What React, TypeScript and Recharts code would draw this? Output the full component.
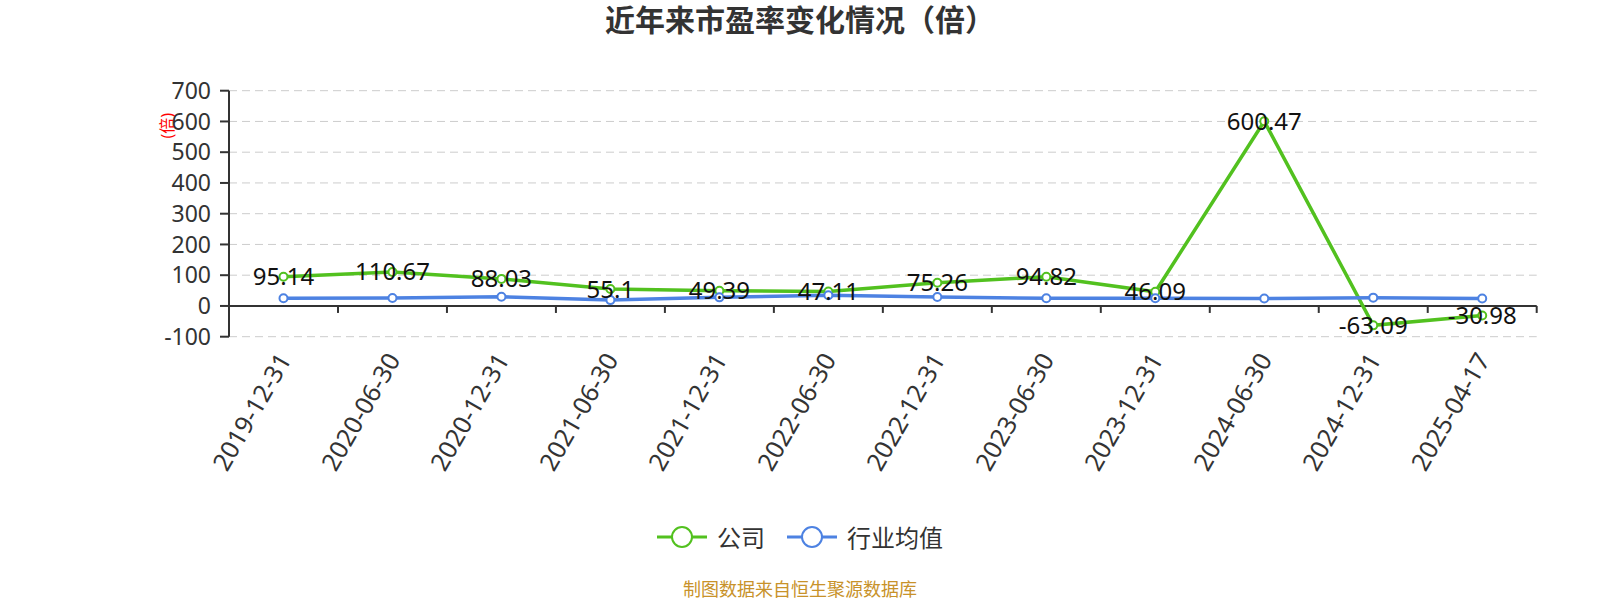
import { CartesianGrid, ComposedChart, Legend, LabelList, Line, ReferenceLine, Scatter, XAxis, YAxis } from "recharts";

const dates = [
  "2019-12-31",
  "2020-06-30",
  "2020-12-31",
  "2021-06-30",
  "2021-12-31",
  "2022-06-30",
  "2022-12-31",
  "2023-06-30",
  "2023-12-31",
  "2024-06-30",
  "2024-12-31",
  "2025-04-17",
];
const companyPE = [95.14, 110.67, 88.03, 55.1, 49.39, 47.11, 75.26, 94.82, 46.09, 600.47, -63.09, -30.98];
const industryPE = [25, 26, 30, 19, 28, 35, 29, 25, 25, 24, 27, 24];
const yTicks = [-100, 0, 100, 200, 300, 400, 500, 600, 700];

const GREEN = "#52c11f";
const BLUE = "#4d82e2";
const FONT = '"Noto Sans", "Noto Sans CJK SC", sans-serif';

const data = dates.map((date, i) => ({ date, company: companyPE[i], industry: industryPE[i] }));
// category boundaries on the zero line, where the x axis has its tick marks
const edgeData = Array.from({ length: dates.length + 1 }, (_, i) => ({ edge: i, zero: 0 }));

function DateTick({ x, y, payload }: any) {
  const ty = y + 18;
  return (
    <text
      x={x}
      y={ty}
      transform={`rotate(-60, ${x}, ${ty})`}
      textAnchor="end"
      dominantBaseline="central"
      fontSize={25}
      fill="#333"
      fontFamily={FONT}
    >
      {payload.value}
    </text>
  );
}

function EdgeTick({ cx, cy }: any) {
  return <line x1={cx} y1={cy} x2={cx} y2={cy + 7} stroke="#333" strokeWidth={2} />;
}

function LegendIcon({ color }: { color: string }) {
  return (
    <svg width={50} height={24}>
      <line x1={0} y1={12} x2={50} y2={12} stroke={color} strokeWidth={3} />
      <circle cx={25} cy={12} r={10} fill="#fff" stroke={color} strokeWidth={2} />
    </svg>
  );
}

function ChartLegend() {
  const items = [
    { name: "公司", color: GREEN },
    { name: "行业均值", color: BLUE },
  ];
  return (
    <div style={{ height: 40, display: "flex", justifyContent: "center", alignItems: "center", gap: 22 }}>
      {items.map((it) => (
        <div key={it.name} style={{ display: "flex", alignItems: "center", gap: 10 }}>
          <LegendIcon color={it.color} />
          <span style={{ fontSize: 24, color: "#333", fontFamily: FONT }}>{it.name}</span>
        </div>
      ))}
    </div>
  );
}

export default function App() {
  return (
    <div style={{ position: "absolute", left: 0, top: 0, width: 1600, height: 600, background: "#fff", fontFamily: FONT }}>
      <div
        style={{
          position: "absolute",
          top: 5,
          left: 0,
          width: 1600,
          textAlign: "center",
          fontSize: 30,
          lineHeight: "30px",
          fontWeight: "bold",
          color: "#333",
        }}
      >
        近年来市盈率变化情况（倍）
      </div>
      <ComposedChart width={1600} height={600} data={data} margin={{ top: 90.7, right: 63.3, left: 0, bottom: 43.3 }}>
        <CartesianGrid vertical={false} stroke="#ccc" strokeDasharray="8 5" />
        <XAxis
          dataKey="date"
          scale="band"
          interval={0}
          height={180}
          axisLine={false}
          tickLine={false}
          tickSize={0}
          tickMargin={0}
          tick={<DateTick />}
        />
        <XAxis xAxisId="edge" type="number" dataKey="edge" domain={[0, dates.length]} hide />
        <YAxis
          width={229}
          domain={[-100, 700]}
          ticks={yTicks}
          interval={0}
          stroke="#333"
          strokeWidth={2}
          tickSize={9}
          tickMargin={9}
          tick={{ fontSize: 23, fill: "#333", fontFamily: FONT }}
          label={{
            content: ({ viewBox }: any) => {
              const cx = viewBox.x + viewBox.width - 62;
              const cy = viewBox.y + 35;
              return (
                <text
                  x={cx}
                  y={cy}
                  transform={`rotate(-90, ${cx}, ${cy})`}
                  textAnchor="middle"
                  dominantBaseline="central"
                  fontSize={16}
                  fill="#f00"
                  fontFamily={FONT}
                >
                  (倍)
                </text>
              );
            },
          }}
        />
        <ReferenceLine y={0} stroke="#333" strokeWidth={2} />
        <Scatter
          xAxisId="edge"
          data={edgeData}
          dataKey="zero"
          shape={<EdgeTick />}
          legendType="none"
          isAnimationActive={false}
        />
        <Legend
          verticalAlign="bottom"
          align="center"
          wrapperStyle={{ left: 0, width: 1600 }}
          content={() => <ChartLegend />}
        />
        <Line
          dataKey="company"
          name="公司"
          type="linear"
          stroke={GREEN}
          strokeWidth={3.5}
          dot={{ r: 4, fill: "#fff", stroke: GREEN, strokeWidth: 2 }}
          activeDot={false}
          isAnimationActive={false}
        >
          <LabelList dataKey="company" position="center" fontSize={24} fill="#111" fontFamily={FONT} />
        </Line>
        <Line
          dataKey="industry"
          name="行业均值"
          type="linear"
          stroke={BLUE}
          strokeWidth={3.5}
          dot={{ r: 4, fill: "#fff", stroke: BLUE, strokeWidth: 2 }}
          activeDot={false}
          isAnimationActive={false}
        />
      </ComposedChart>
      <div
        style={{
          position: "absolute",
          top: 578,
          left: 0,
          width: 1600,
          textAlign: "center",
          fontSize: 18,
          lineHeight: "22px",
          color: "#c8922a",
        }}
      >
        制图数据来自恒生聚源数据库
      </div>
    </div>
  );
}
